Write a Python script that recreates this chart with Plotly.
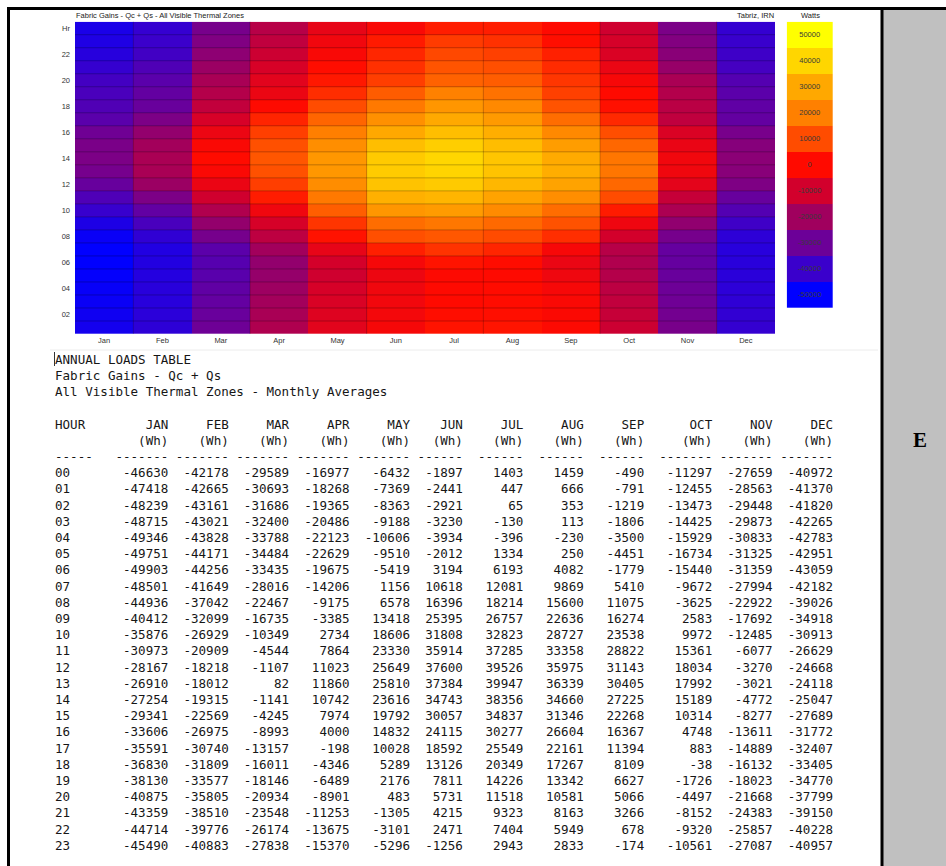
import plotly.graph_objects as go

# ---------------- data ----------------
months = ["Jan", "Feb", "Mar", "Apr", "May", "Jun", "Jul", "Aug", "Sep", "Oct", "Nov", "Dec"]
month_codes = ["JAN", "FEB", "MAR", "APR", "MAY", "JUN", "JUL", "AUG", "SEP", "OCT", "NOV", "DEC"]
hours = list(range(24))
hour_tick_vals = [1, 3, 5, 7, 9, 11, 13, 15, 17, 19, 21, 23]
hour_tick_text = ["02", "04", "06", "08", "10", "12", "14", "16", "18", "20", "22", "Hr"]

jan = [-46630, -47418, -48239, -48715, -49346, -49751, -49903, -48501, -44936, -40412, -35876, -30973,
       -28167, -26910, -27254, -29341, -33606, -35591, -36830, -38130, -40875, -43359, -44714, -45490]
feb = [-42178, -42665, -43161, -43021, -43828, -44171, -44256, -41649, -37042, -32099, -26929, -20909,
       -18218, -18012, -19315, -22569, -26975, -30740, -31809, -33577, -35805, -38510, -39776, -40883]
mar = [-29589, -30693, -31686, -32400, -33788, -34484, -33435, -28016, -22467, -16735, -10349, -4544,
       -1107, 82, -1141, -4245, -8993, -13157, -16011, -18146, -20934, -23548, -26174, -27838]
apr = [-16977, -18268, -19365, -20486, -22123, -22629, -19675, -14206, -9175, -3385, 2734, 7864,
       11023, 11860, 10742, 7974, 4000, -198, -4346, -6489, -8901, -11253, -13675, -15370]
may = [-6432, -7369, -8363, -9188, -10606, -9510, -5419, 1156, 6578, 13418, 18606, 23330,
       25649, 25810, 23616, 19792, 14832, 10028, 5289, 2176, 483, -1305, -3101, -5296]
jun = [-1897, -2441, -2921, -3230, -3934, -2012, 3194, 10618, 16396, 25395, 31808, 35914,
       37600, 37384, 34743, 30057, 24115, 18592, 13126, 7811, 5731, 4215, 2471, -1256]
jul = [1403, 447, 65, -130, -396, 1334, 6193, 12081, 18214, 26757, 32823, 37285,
       39526, 39947, 38356, 34837, 30277, 25549, 20349, 14226, 11518, 9323, 7404, 2943]
aug = [1459, 666, 353, 113, -230, 250, 4082, 9869, 15600, 22636, 28727, 33358,
       35975, 36339, 34660, 31346, 26604, 22161, 17267, 13342, 10581, 8163, 5949, 2833]
sep = [-490, -791, -1219, -1806, -3500, -4451, -1779, 5410, 11075, 16274, 23538, 28822,
       31143, 30405, 27225, 22268, 16367, 11394, 8109, 6627, 5066, 3266, 678, -174]
oct_ = [-11297, -12455, -13473, -14425, -15929, -16734, -15440, -9672, -3625, 2583, 9972, 15361,
        18034, 17992, 15189, 10314, 4748, 883, -38, -1726, -4497, -8152, -9320, -10561]
nov = [-27659, -28563, -29448, -29873, -30833, -31325, -31359, -27994, -22922, -17692, -12485, -6077,
       -3270, -3021, -4772, -8277, -13611, -14889, -16132, -18023, -21668, -24383, -25857, -27087]
dec = [-40972, -41370, -41820, -42265, -42783, -42951, -43059, -42182, -39026, -34918, -30913, -26629,
       -24668, -24118, -25047, -27689, -31772, -32407, -33405, -34770, -37799, -39150, -40228, -40957]

legend_levels = [-50000, -40000, -30000, -20000, -10000, 0, 10000, 20000, 30000, 40000, 50000]

chart_title = "Fabric Gains - Qc + Qs - All Visible Thermal Zones"
location = "Tabriz, IRN"
unit_label = "Watts"
table_title = ["ANNUAL LOADS TABLE", "Fabric Gains - Qc + Qs", "All Visible Thermal Zones - Monthly Averages"]
side_label = "E"

# ---------------- styling ----------------
W, H = 946, 866
def px(x):
    return x / W
def py(y):
    return 1 - y / H

level_colors = ["#0000FF", "#3A00CC", "#6C0098", "#A0005E", "#D2002C", "#FF0A00",
                "#FF4C00", "#FF8000", "#FFA800", "#FFD600", "#FFFF00"]
colorscale = [[i / 10, c] for i, c in enumerate(level_colors)]

series = [jan, feb, mar, apr, may, jun, jul, aug, sep, oct_, nov, dec]
z = [[series[m][h] for m in range(12)] for h in hours]

fig = go.Figure()
fig.add_trace(go.Heatmap(
    x=months, y=hours, z=z, colorscale=colorscale, zmin=-50000, zmax=50000,
    showscale=False, hoverinfo="skip", xaxis="x", yaxis="y"))

fig.add_trace(go.Heatmap(
    x=[unit_label], y=legend_levels, z=[[v] for v in legend_levels],
    text=[[str(v)] for v in legend_levels], texttemplate="%{text}",
    textfont=dict(family="Liberation Sans, Arial", size=7.5, color="#3a3a3a"),
    colorscale=colorscale, zmin=-50000, zmax=50000, showscale=False,
    hoverinfo="skip", xaxis="x2", yaxis="y2"))

tick_font = dict(family="Liberation Sans, Arial", size=7.5, color="#333333")
fig.update_layout(
    width=W, height=H, margin=dict(l=0, r=0, t=0, b=0),
    paper_bgcolor="white", plot_bgcolor="white", showlegend=False,
    xaxis=dict(domain=[px(75), px(775)], showgrid=False, zeroline=False, ticks="",
               tickfont=tick_font, showline=False, fixedrange=True),
    yaxis=dict(domain=[py(334), py(21.7)], range=[-0.5, 23.5], tickvals=hour_tick_vals,
               ticktext=hour_tick_text, showgrid=False, zeroline=False, ticks="",
               tickfont=tick_font, ticklabelstandoff=4, fixedrange=True),
    xaxis2=dict(domain=[px(786.7), px(833)], visible=False, fixedrange=True),
    yaxis2=dict(domain=[py(308), py(21.7)], range=[-55000, 55000], visible=False, fixedrange=True),
)

shapes = []
# row separators and month-pair separators on the heatmap
for k in range(23):
    shapes.append(dict(type="line", xref="x domain", yref="y", x0=0, x1=1, y0=k + 0.5, y1=k + 0.5,
                       line=dict(color="rgba(0,0,0,0.25)", width=1), layer="above"))
for i in range(0, 11, 2):
    shapes.append(dict(type="line", xref="x", yref="y domain", x0=i + 0.5, x1=i + 0.5, y0=0, y1=1,
                       line=dict(color="rgba(0,0,0,0.22)", width=1), layer="above"))
# page frame
shapes += [
    dict(type="rect", xref="paper", yref="paper", x0=px(883), x1=1, y0=0, y1=py(9.5),
         fillcolor="#C0C0C0", line=dict(width=0), layer="below"),
    dict(type="line", xref="paper", yref="paper", x0=px(8.5), x1=px(8.5), y0=0, y1=py(7),
         line=dict(color="black", width=3)),
    dict(type="line", xref="paper", yref="paper", x0=px(7), x1=1, y0=py(8.5), y1=py(8.5),
         line=dict(color="black", width=3)),
    dict(type="line", xref="paper", yref="paper", x0=px(882), x1=px(882), y0=0, y1=py(8.5),
         line=dict(color="black", width=3)),
    dict(type="line", xref="paper", yref="paper", x0=px(50), x1=px(878), y0=py(350), y1=py(350),
         line=dict(color="#ececec", width=1)),
    dict(type="line", xref="paper", yref="paper", x0=px(54.5), x1=px(54.5), y0=py(352), y1=py(366),
         line=dict(color="#333333", width=1)),
]

annotations = []
small = dict(family="Liberation Sans, Arial", size=7.5, color="#222222")
annotations.append(dict(text=chart_title, x=px(74), y=py(16), xref="paper", yref="paper",
                        xanchor="left", yanchor="middle", showarrow=False, font=small))
annotations.append(dict(text=location, x=px(776), y=py(16), xref="paper", yref="paper",
                        xanchor="right", yanchor="middle", showarrow=False, font=small))
annotations.append(dict(text=unit_label, x=px(810.5), y=py(16), xref="paper", yref="paper",
                        xanchor="center", yanchor="middle", showarrow=False, font=small))

# monospace table text built from the data arrays
widths = [7, 7, 7, 7, 7, 6, 6, 6, 6, 7, 7, 7]
lines = list(table_title) + [""]
lines.append("HOUR".ljust(8) + "".join(c.rjust(w).ljust(8) for c, w in zip(month_codes, widths)))
lines.append(" " * 8 + "".join("(Wh)".rjust(w).ljust(8) for w in widths))
lines.append("-----".ljust(8) + "".join(("-" * w).ljust(8) for w in widths))
for h in hours:
    lines.append(("%02d" % h).ljust(8) +
                 "".join(str(series[m][h]).rjust(widths[m]).ljust(8) for m in range(12)))

mono = dict(family="DejaVu Sans Mono, Liberation Mono, monospace", size=12.55, color="#161616")
for i, ln in enumerate(lines):
    if not ln:
        continue
    annotations.append(dict(text=ln.rstrip().replace(" ", "\u00a0"), x=px(52.5), y=py(359.3 + 16.2 * i),
                            xref="paper", yref="paper", xanchor="left", yanchor="middle",
                            showarrow=False, font=mono))

annotations.append(dict(text="<b>" + side_label + "</b>", x=px(920), y=py(439.5), xref="paper", yref="paper",
                        xanchor="center", yanchor="middle", showarrow=False,
                        font=dict(family="Liberation Serif, Times New Roman, serif", size=21, color="black")))

fig.update_layout(shapes=shapes, annotations=annotations)
fig.write_html("out.html")
